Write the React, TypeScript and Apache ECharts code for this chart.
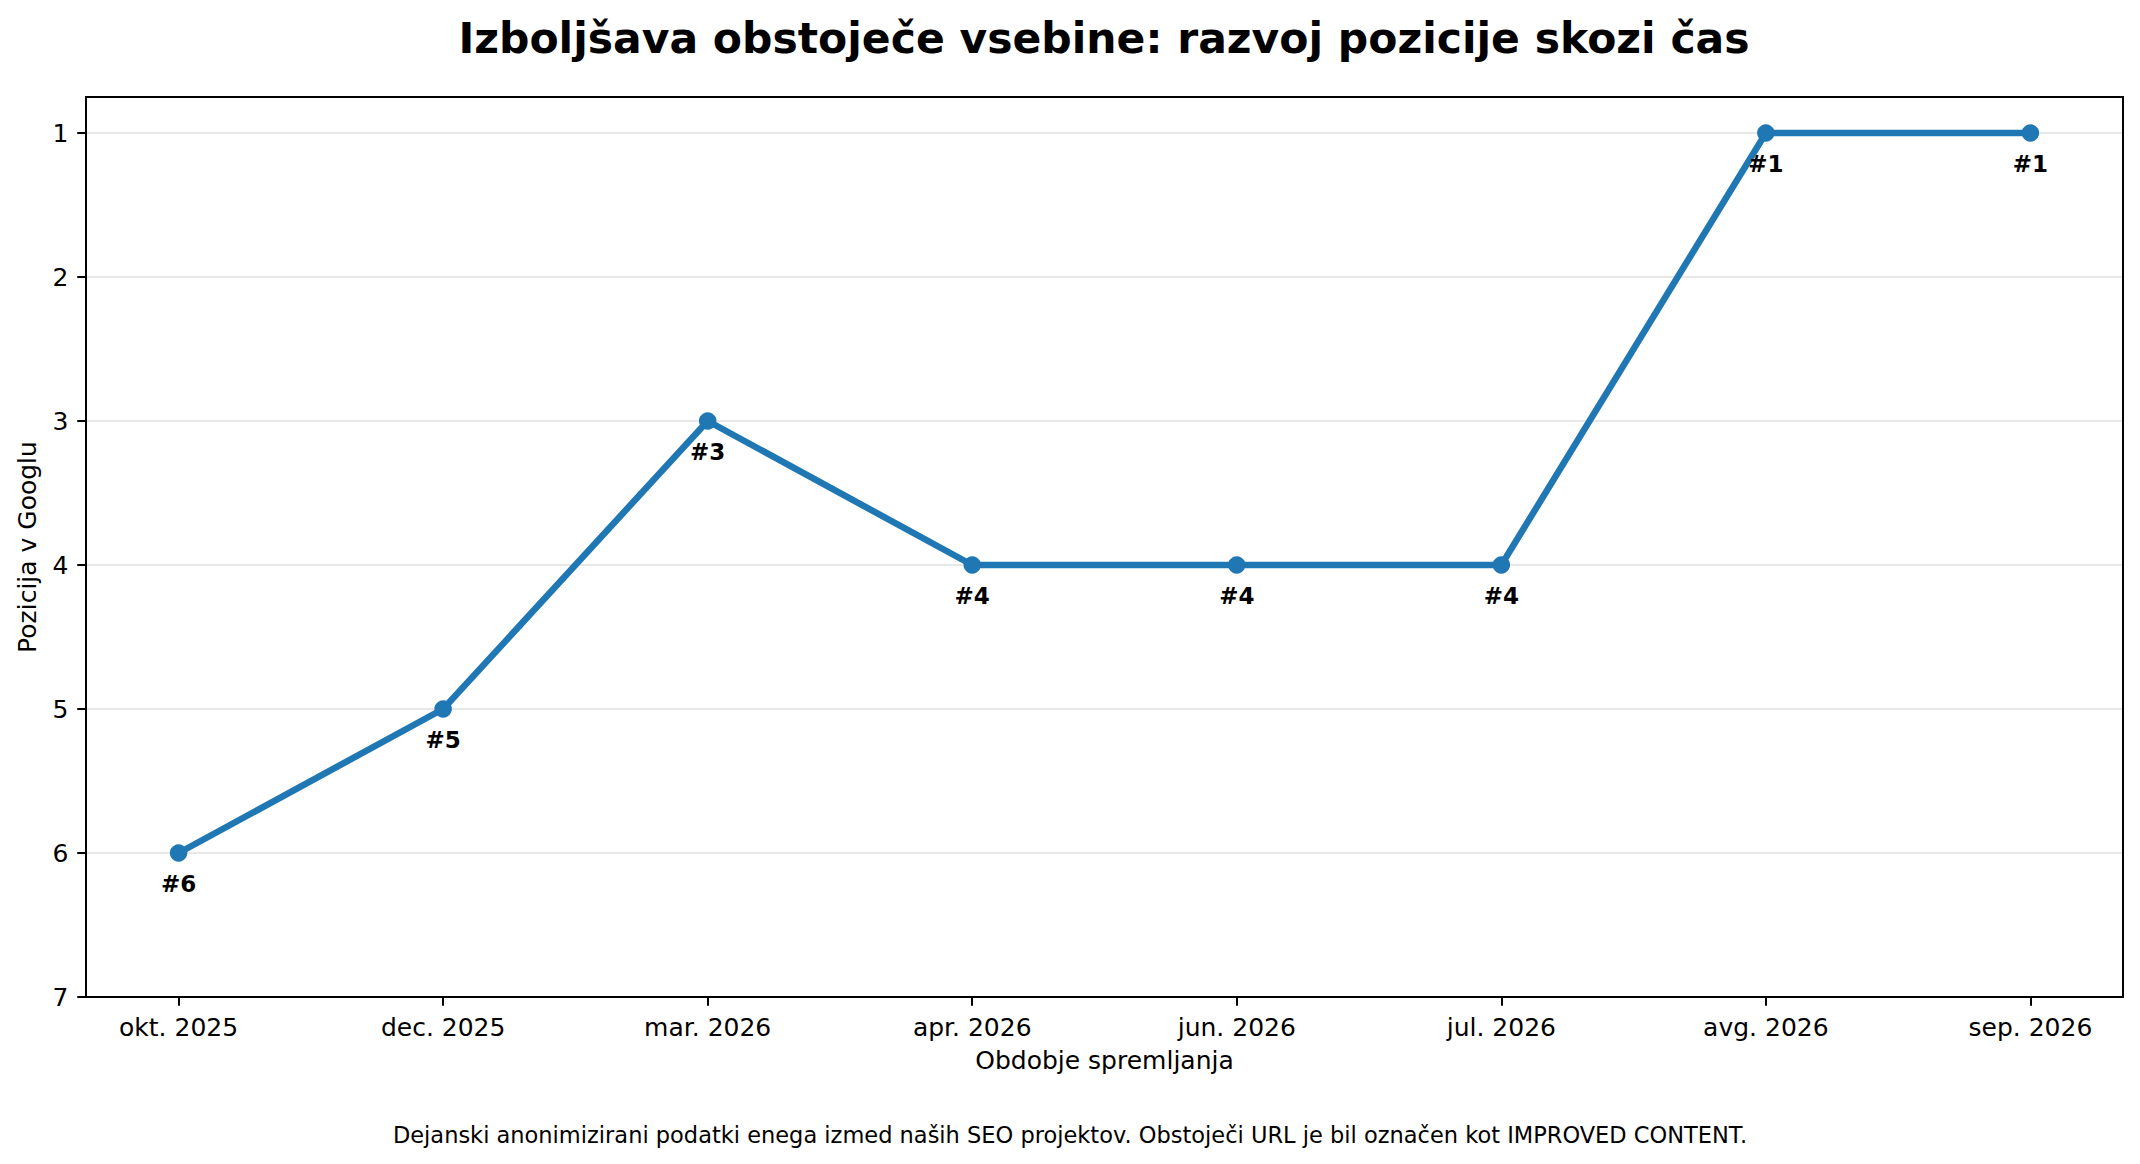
import React, { useEffect, useRef } from "react";
import * as echarts from "echarts";

const categories = ["okt. 2025", "dec. 2025", "mar. 2026", "apr. 2026", "jun. 2026", "jul. 2026", "avg. 2026", "sep. 2026"];
const positions = [6, 5, 3, 4, 4, 4, 1, 1];
const yTicks = [1, 2, 3, 4, 5, 6, 7];
const titleText = "Izboljšava obstoječe vsebine: razvoj pozicije skozi čas";
const footerText = "Dejanski anonimizirani podatki enega izmed naših SEO projektov. Obstoječi URL je bil označen kot IMPROVED CONTENT.";
const xName = "Obdobje spremljanja";
const yName = "Pozicija v Googlu";

const FONT = "DejaVu Sans";

export default function App() {
  const ref = useRef<HTMLDivElement>(null);
  useEffect(() => {
    document.body.style.margin = "0";
    const chart = echarts.init(ref.current!, null, { renderer: "svg" });
    const xIdx = categories.map((_, i) => i);
    const axisLineStyle = { color: "#000", width: 2 };
    chart.setOption({
      animation: false,
      backgroundColor: "#fff",
      textStyle: { fontFamily: FONT },
      grid: { left: 86, right: 17, top: 97, bottom: 167, containLabel: false },
      graphic: [
        {
          type: "text",
          x: 1104,
          y: 38,
          style: {
            text: titleText,
            font: `bold 42.5px '${FONT}'`,
            fill: "#000",
            textAlign: "center",
            textVerticalAlign: "middle",
          },
        },
        {
          type: "text",
          x: 1070,
          y: 1135,
          style: {
            text: footerText,
            font: `22.5px '${FONT}'`,
            fill: "#000",
            textAlign: "center",
            textVerticalAlign: "middle",
          },
        },
      ],
      xAxis: [
        {
          type: "value",
          min: -0.35,
          max: categories.length - 1 + 0.35,
          name: xName,
          nameLocation: "middle",
          nameGap: 50.5,
          nameTextStyle: { fontFamily: FONT, fontSize: 25, color: "#000" },
          axisLine: { show: true, lineStyle: axisLineStyle },
          axisTick: { show: true, inside: false, length: 8.75, lineStyle: axisLineStyle, customValues: xIdx },
          axisLabel: {
            show: true,
            customValues: xIdx,
            formatter: (v: number) => categories[Math.round(v)] ?? "",
            fontFamily: FONT,
            fontSize: 25,
            color: "#000",
            margin: 17.5,
          },
          splitLine: { show: false },
        },
        {
          type: "value",
          position: "top",
          min: 0,
          max: 1,
          axisLine: { show: true, onZero: false, lineStyle: axisLineStyle },
          axisTick: { show: false },
          axisLabel: { show: false },
          splitLine: { show: false },
        },
      ],
      yAxis: [
        {
          type: "value",
          inverse: true,
          min: 0.75,
          max: 7,
          splitNumber: 6,
          name: yName,
          nameLocation: "middle",
          nameGap: 46.5,
          nameTextStyle: { fontFamily: FONT, fontSize: 25, color: "#000" },
          axisLine: { show: true, onZero: false, lineStyle: axisLineStyle },
          axisTick: { show: true, inside: false, length: 8.75, lineStyle: axisLineStyle, customValues: yTicks },
          axisLabel: {
            show: true,
            customValues: yTicks,
            fontFamily: FONT,
            fontSize: 25,
            color: "#000",
            margin: 17.5,
          },
          splitLine: { show: true, lineStyle: { color: "#e8e8e8", width: 1.8 } },
        },
        {
          type: "value",
          position: "right",
          min: 0,
          max: 1,
          axisLine: { show: true, onZero: false, lineStyle: axisLineStyle },
          axisTick: { show: false },
          axisLabel: { show: false },
          splitLine: { show: false },
        },
      ],
      series: [
        {
          type: "line",
          xAxisIndex: 0,
          yAxisIndex: 0,
          data: positions.map((p, i) => [i, p]),
          symbol: "circle",
          symbolSize: 17.5,
          clip: false,
          lineStyle: { color: "#1f77b4", width: 6.5 },
          itemStyle: { color: "#1f77b4" },
          label: {
            show: true,
            position: "bottom",
            distance: 11,
            formatter: (p: any) => "#" + p.value[1],
            fontFamily: FONT,
            fontWeight: "bold",
            fontSize: 23,
            color: "#000",
          },
          z: 3,
        },
      ],
    });
    return () => chart.dispose();
  }, []);
  return <div ref={ref} style={{ width: 2140, height: 1164 }} />;
}
